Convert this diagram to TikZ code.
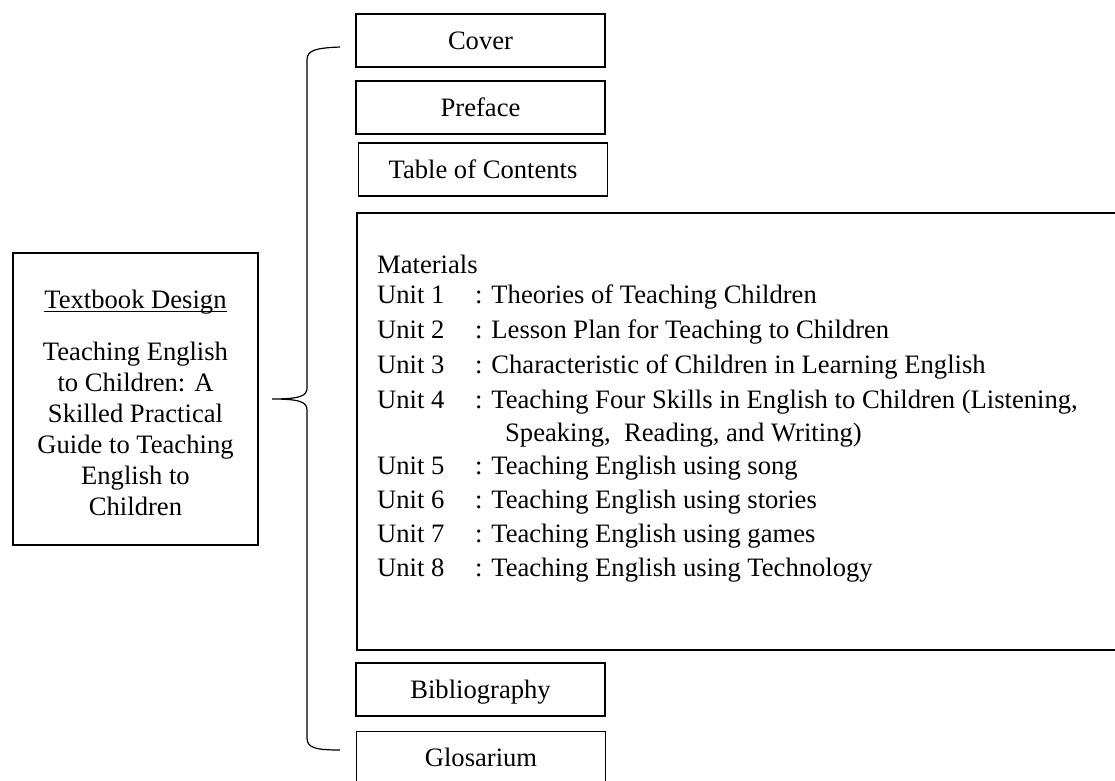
\documentclass[tikz,border=0pt]{standalone}
\usepackage{fontspec}
\setmainfont{Liberation Serif}
\begin{document}
\begin{tikzpicture}[x=1pt,y=-1pt,
  every node/.style={font=\fontsize{26.6}{31}\selectfont},
  box/.style={draw,line width=1.8pt,minimum width=249pt,minimum height=53pt,inner sep=0pt,text height=23.6pt,text depth=6pt},
  frame/.style={draw,line width=1.8pt,inner sep=0pt},
  txt/.style={inner sep=0pt,anchor=base west},
  brace/.style={draw,line width=1.2pt}]
\path[use as bounding box] (0,0) rectangle (1115,780);
\clip (0,0) rectangle (1115,780);

% left box
\node[frame,minimum width=245pt,minimum height=292pt] (design) at (135.5,399) {};
\node[inner sep=0pt,anchor=base] (title) at (135.5,308) {Textbook Design};
\draw[line width=1.2pt] ([yshift=-3.5pt]title.base west) -- ([yshift=-3.5pt]title.base east);
\node[inner sep=0pt,anchor=base,align=center] (subtitle) at (135.5,515)
  {Teaching English\\to Children: A\\Skilled Practical\\Guide to Teaching\\English to\\Children};

% right boxes
\node[box] (cover) at (480.5,40.5) {Cover};
\node[box] (preface) at (480.5,107.5) {Preface};
\node[box] (toc) at (483,169.5) {Table of Contents\hspace{16pt}};
\node[frame,anchor=north west,minimum width=800pt,minimum height=437pt] (materials) at (356,212) {};
\node[box] (biblio) at (480.5,689.5) {Bibliography};
\node[box] (glos) at (481,758) {Glosarium};

% materials text
\node[txt] (m0) at (377,273) {Materials};
\node[txt] (u1) at (377,303) {\makebox[98pt][l]{Unit 1}: Theories of Teaching Children};
\node[txt] (u2) at (377,338) {\makebox[98pt][l]{Unit 2}: Lesson Plan for Teaching to Children};
\node[txt] (u3) at (377,373) {\makebox[98pt][l]{Unit 3}: Characteristic of Children in Learning English};
\node[txt] (u4) at (377,408) {\makebox[98pt][l]{Unit 4}: Teaching Four Skills in English to Children (Listening,};
\node[txt] (sp) at (505,441) {Speaking,\ \ Reading, and Writing)};
\node[txt] (u5) at (377,474) {\makebox[98pt][l]{Unit 5}: Teaching English using song};
\node[txt] (u6) at (377,508) {\makebox[98pt][l]{Unit 6}: Teaching English using stories};
\node[txt] (u7) at (377,542) {\makebox[98pt][l]{Unit 7}: Teaching English using games};
\node[txt] (u8) at (377,576) {\makebox[98pt][l]{Unit 8}: Teaching English using Technology};

% brace
\coordinate (btop) at (340,47);
\coordinate (bbot) at (340,750);
\coordinate (tip) at (272,399);
\path[brace] (btop) .. controls (316,48) and (307,50) .. (307,60)
  -- (307,388) .. controls (307,396) and (300,399) .. (tip)
  .. controls (300,399) and (307,402) .. (307,410)
  -- (307,738) .. controls (307,748) and (316,750) .. (bbot);
\end{tikzpicture}
\end{document}
